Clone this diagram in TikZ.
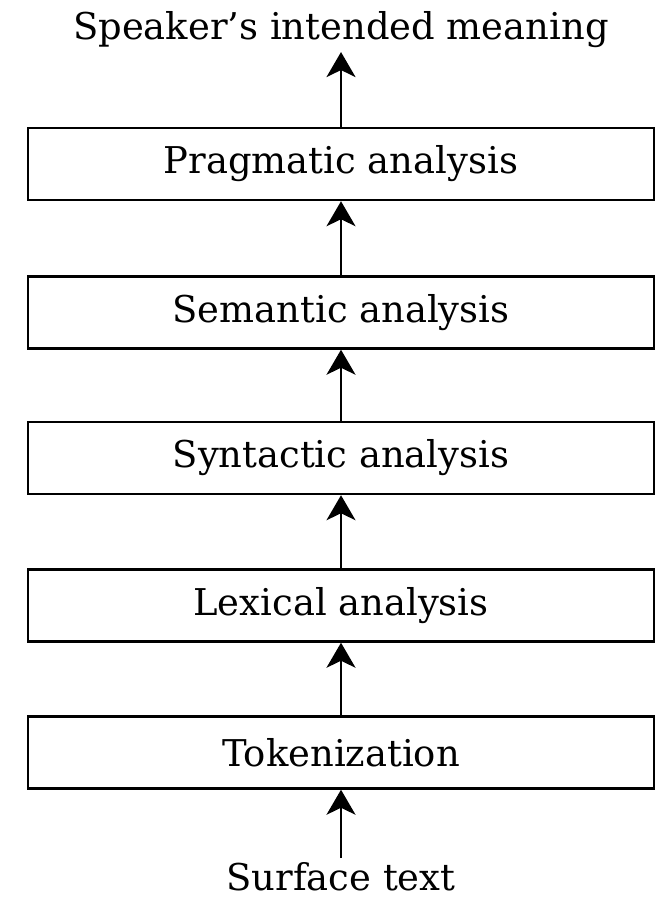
\documentclass[tikz,border=0pt]{standalone}
\usepackage{fontspec}
\setmainfont{DejaVu Serif}
\usepackage{tikz}
\usetikzlibrary{arrows.meta}

\begin{document}
\begin{tikzpicture}[>={Stealth[length=0.5cm,width=0.58cm,inset=0.14cm]},
  stage/.style={draw,line width=1.4pt,minimum width=12.52cm,minimum height=1.44cm,align=center,font=\fontsize{21}{25}\selectfont,inner sep=0pt},
  txt/.style={font=\fontsize{21}{25}\selectfont,inner sep=2pt},
  flow/.style={->,line width=1.2pt}]
  \useasboundingbox (0,0) rectangle (13.12,-18.02);
  \node[txt,anchor=base] (meaning) at (6.82,-0.80) {Speaker's intended meaning};
  \node[stage] (pragm) at (6.82,-3.28) {Pragmatic analysis};
  \node[stage] (seman) at (6.82,-6.25) {Semantic analysis};
  \node[stage] (synt) at (6.82,-9.16) {Syntactic analysis};
  \node[stage] (lex) at (6.82,-12.11) {Lexical analysis};
  \node[stage] (tok) at (6.82,-15.05) {Tokenization};
  \node[txt,anchor=base] (surface) at (6.82,-17.80) {Surface text};
  \draw[flow] (surface) -- (tok);
  \draw[flow] (tok) -- (lex);
  \draw[flow] (lex) -- (synt);
  \draw[flow] (synt) -- (seman);
  \draw[flow] (seman) -- (pragm);
  \draw[flow] (pragm) -- (meaning);
\end{tikzpicture}
\end{document}
